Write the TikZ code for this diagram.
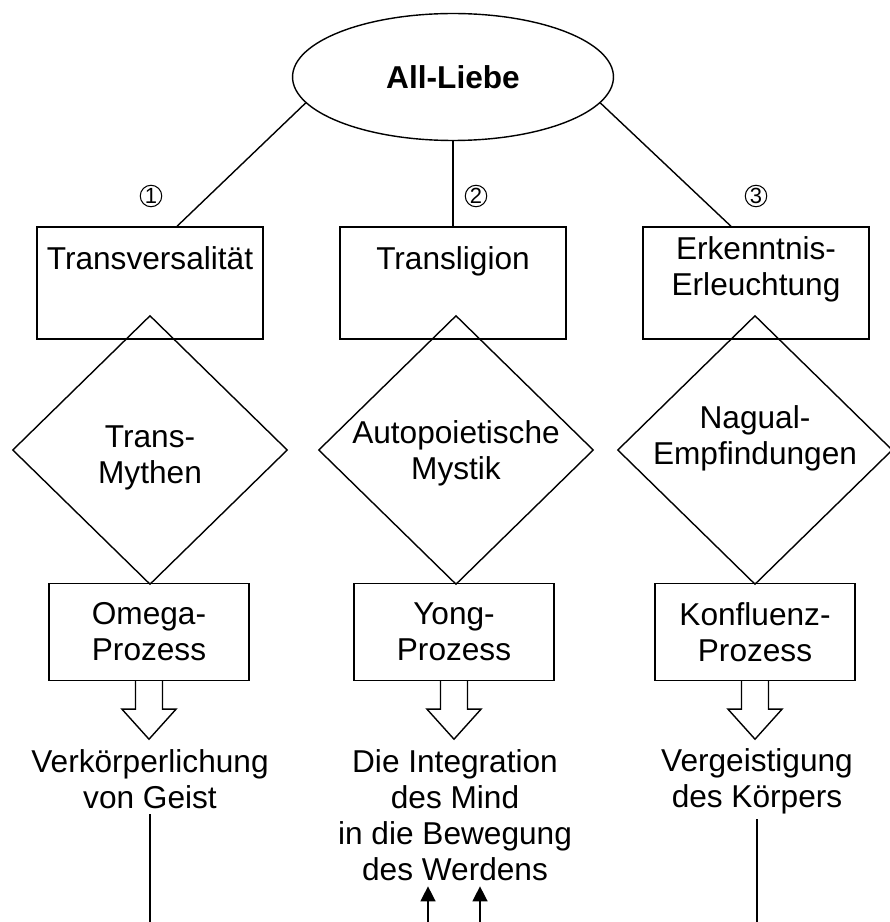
\documentclass[tikz,border=0pt]{standalone}
\usepackage{fontspec}
\setmainfont{Liberation Sans}
\usetikzlibrary{shapes.geometric,arrows.meta}

\tikzset{
  topbox/.style={draw,minimum width=4.52cm,minimum height=2.24cm,inner sep=0pt},
  boxtext/.style={anchor=north,inner sep=0pt,align=center},
  rhombus/.style={draw,diamond,minimum width=5.5cm,minimum height=5.38cm,inner sep=0pt},
  rhombustext/.style={anchor=center,inner sep=0pt,align=center},
  procbox/.style={draw,minimum width=4cm,minimum height=1.94cm,align=center},
  result/.style={align=center,inner sep=0.1cm},
  circnum/.style={draw,circle,minimum size=0.43cm,inner sep=0pt,line width=0.6pt,font=\fontsize{12.5}{12.5}\selectfont},
}

% hollow block arrow below a process box
\newcommand{\hollowarrow}[1]{%
  \draw[shift={(#1)}] (-13.5,0) -- (-13.5,28) -- (-27,28) -- (0,58) -- (27,28) -- (13.5,28) -- (13.5,0);}

\begin{document}
\fontsize{18}{20.5}\selectfont
\begin{tikzpicture}[x=0.02cm,y=-0.02cm,line width=0.8pt]
\useasboundingbox (0,0) rectangle (889,922);

\node[draw,ellipse,minimum width=6.42cm,minimum height=2.54cm,inner sep=0pt,font=\bfseries] (love) at (453,77) {All-Liebe};

% first row
\node[topbox,label={[boxtext,yshift=-0.39cm]north:Transversalität}] (b1) at (150,283) {};
\node[topbox,label={[boxtext,yshift=-0.39cm]north:Transligion}] (b2) at (453,283) {};
\node[topbox,label={[boxtext,yshift=-0.2cm]north:Erkenntnis-\\Erleuchtung}] (b3) at (756,283) {};

\draw (love.190) -- ([xshift=0.54cm]b1.north);
\draw (love.south) -- (b2.north);
\draw (love.350) -- ([xshift=-0.5cm]b3.north);

\node[circnum] (n1) at (151,196) {1};
\node[circnum] (n2) at (476,196) {2};
\node[circnum] (n3) at (756,196) {3};

% diamonds
\node[rhombus,label={[rhombustext,yshift=-0.16cm]center:Trans-\\Mythen}] (d1) at (150,450) {};
\node[rhombus,label={[rhombustext,yshift=-0.06cm]center:Autopoietische\\Mystik}] (d2) at (456,450) {};
\node[rhombus,label={[rhombustext,yshift=0.24cm]center:Nagual-\\Empfindungen}] (d3) at (755,450) {};

% processes
\node[procbox] (p1) at (149,632) {Omega-\\Prozess};
\node[procbox] (p2) at (454,632) {Yong-\\Prozess};
\node[procbox] (p3) at (755,632) {Konfluenz-\\Prozess};

\hollowarrow{p1.south}
\hollowarrow{p2.south}
\hollowarrow{p3.south}

% results
\node[result] (r1) at (150,779) {Verkörperlichung\\von Geist};
\node[result] (r2) at (455,815) {Die Integration\\des Mind\\in die Bewegung\\des Werdens};
\node[result] (r3) at (757,781) {Vergeistigung\\des Körpers};

\coordinate (foot) at (0,922);
\coordinate (in1) at (428,922);
\coordinate (in2) at (480,922);
\draw (r1.south) -- (r1.south |- foot);
\draw (r3.south) -- (r3.south |- foot);
\draw[-{Triangle[width=0.3cm,length=0.3cm]}] (in1) -- (in1 |- r2.south);
\draw[-{Triangle[width=0.3cm,length=0.3cm]}] (in2) -- (in2 |- r2.south);
\end{tikzpicture}
\end{document}
